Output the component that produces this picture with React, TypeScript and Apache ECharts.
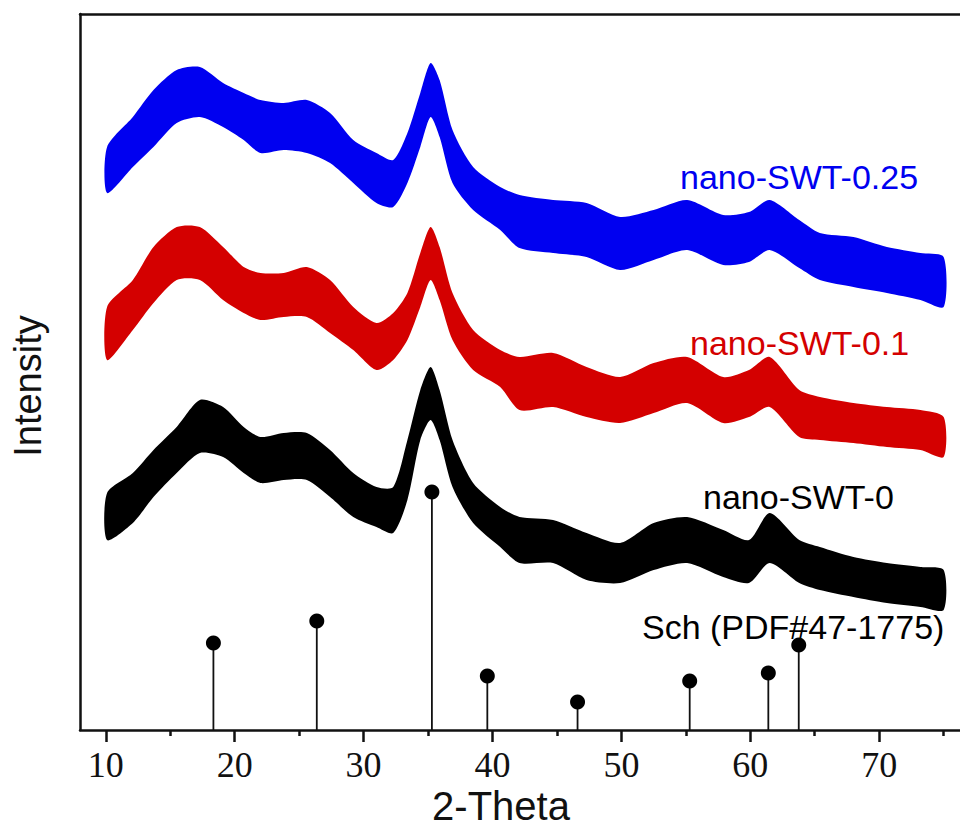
import React, { useEffect, useRef } from "react";
import * as echarts from "echarts";

// 2-Theta sample positions (degrees)
const twoTheta = [10.1, 12.1, 13.7, 15.5, 17.3, 19.1, 20.7, 22.0, 23.8, 25.6, 27.4, 29.2, 31.0, 32.3, 33.4, 34.4, 35.2, 35.9, 36.9, 38.5, 40.6, 42.1, 44.7, 47.3, 49.9, 52.5, 55.1, 57.9, 59.9, 61.5, 63.8, 65.4, 68.0, 70.6, 73.2, 75.0];

// nano-SWT-0.25 (upper / lower edge of the noisy trace, offset intensity)
const swt025Hi = [583, 613, 640, 660, 663, 647, 637, 630, 627, 630, 617, 590, 577, 570, 597, 637, 667, 650, 600, 563, 543, 535, 530, 527, 513, 520, 530, 515, 518, 530, 510, 497, 493, 483, 477, 473];
const swt025Lo = [537, 563, 583, 607, 613, 603, 590, 577, 580, 577, 567, 547, 527, 523, 547, 583, 613, 593, 547, 520, 500, 482, 477, 473, 460, 470, 480, 465, 468, 480, 462, 450, 443, 437, 430, 423];

// nano-SWT-0.1
const swt01Hi = [423, 450, 483, 503, 503, 483, 463, 457, 457, 463, 450, 423, 407, 417, 437, 477, 503, 483, 437, 400, 380, 373, 377, 363, 353, 367, 373, 353, 360, 373, 340, 333, 327, 323, 320, 313];
const swt01Lo = [370, 400, 427, 450, 450, 430, 417, 410, 413, 413, 397, 380, 360, 370, 390, 423, 450, 430, 390, 360, 343, 320, 323, 313, 307, 317, 327, 307, 313, 323, 293, 290, 287, 283, 280, 273];

// nano-SWT-0
const swt0Hi = [237, 257, 280, 303, 330, 323, 303, 293, 297, 297, 280, 257, 243, 243, 290, 340, 363, 340, 290, 247, 223, 213, 210, 197, 187, 207, 213, 200, 190, 217, 190, 183, 173, 167, 163, 160];
const swt0Lo = [190, 207, 233, 257, 277, 273, 257, 247, 250, 250, 233, 213, 203, 197, 230, 290, 310, 290, 243, 207, 183, 167, 167, 150, 147, 160, 167, 153, 147, 167, 147, 140, 133, 127, 123, 120];

// Sch (PDF#47-1775) reference lines
const pdfPos = [18.35, 26.37, 35.3, 39.6, 46.6, 55.3, 61.4, 63.76];
const pdfInt = [87, 109, 238, 54, 28, 49, 57, 85];

const majorTicks = [10, 20, 30, 40, 50, 60, 70];
const minorTicks = [15, 25, 35, 45, 55, 65, 75];

const X_MIN = 8;
const X_MAX = 76.27;
const Y_MAX = 716;

function bandSeries(name: string, hi: number[], lo: number[], color: string) {
  const data = twoTheta.map((x, i) => [x, lo[i], hi[i]]);
  return {
    type: "custom",
    name,
    data,
    encode: { x: 0, y: [1, 2] },
    clip: true,
    silent: true,
    renderItem: (params: any, api: any) => {
      if (params.dataIndex !== 0) return null;
      const top = data.map((d) => api.coord([d[0], d[2]]));
      const bot = data.map((d) => api.coord([d[0], d[1]])).reverse();
      return {
        type: "polygon",
        shape: { points: top.concat(bot), smooth: 0.25 },
        style: { fill: color },
      };
    },
  };
}

export default function App() {
  const ref = useRef<HTMLDivElement>(null);
  useEffect(() => {
    if (!ref.current) return;
    const chart = echarts.init(ref.current, undefined, { renderer: "svg" });
    const stickData = pdfPos.map((x, i) => [x, pdfInt[i]]);
    chart.setOption({
      animation: false,
      backgroundColor: "#fff",
      grid: { left: 80, right: 0, top: 14, bottom: 97, containLabel: false },
      xAxis: [
        {
          type: "value",
          min: X_MIN,
          max: X_MAX,
          position: "bottom",
          axisLine: { show: true, onZero: false, lineStyle: { color: "#111", width: 2.5 } },
          axisTick: { show: true, inside: false, length: 12, customValues: majorTicks, lineStyle: { color: "#111", width: 2.5 } },
          axisLabel: {
            show: true,
            customValues: majorTicks,
            margin: 17,
            fontFamily: "Liberation Serif",
            fontSize: 36,
            color: "#111",
          },
          splitLine: { show: false },
        },
        {
          type: "value",
          min: X_MIN,
          max: X_MAX,
          position: "bottom",
          axisLine: { show: false },
          axisTick: { show: true, length: 6, customValues: minorTicks, lineStyle: { color: "#111", width: 2.5 } },
          axisLabel: { show: false },
          splitLine: { show: false },
        },
        {
          type: "value",
          min: X_MIN,
          max: X_MAX,
          position: "top",
          axisLine: { show: true, onZero: false, lineStyle: { color: "#111", width: 2.5 } },
          axisTick: { show: false },
          axisLabel: { show: false },
          splitLine: { show: false },
        },
      ],
      yAxis: {
        type: "value",
        min: 0,
        max: Y_MAX,
        axisLine: { show: true, onZero: false, lineStyle: { color: "#111", width: 2.5 } },
        axisTick: { show: false },
        axisLabel: { show: false },
        splitLine: { show: false },
      },
      series: [
        bandSeries("nano-SWT-0.25", swt025Hi, swt025Lo, "#0000f0"),
        bandSeries("nano-SWT-0.1", swt01Hi, swt01Lo, "#d40000"),
        bandSeries("nano-SWT-0", swt0Hi, swt0Lo, "#000000"),
        {
          type: "custom",
          name: "Sch stems",
          data: stickData,
          encode: { x: 0, y: 1 },
          silent: true,
          renderItem: (params: any, api: any) => {
            const x = api.value(0);
            const y = api.value(1);
            const p0 = api.coord([x, 0]);
            const p1 = api.coord([x, y]);
            return {
              type: "line",
              shape: { x1: p0[0], y1: p0[1], x2: p1[0], y2: p1[1] },
              style: { stroke: "#111", lineWidth: 1.8 },
            };
          },
        },
        {
          type: "scatter",
          name: "Sch (PDF#47-1775)",
          data: stickData,
          symbol: "circle",
          symbolSize: 15,
          itemStyle: { color: "#000", opacity: 1 },
          silent: true,
          z: 5,
        },
      ],
      graphic: [
        {
          type: "text",
          x: 680,
          y: 177,
          style: { text: "nano-SWT-0.25", fill: "#0000f0", font: '34px "Liberation Sans"', textAlign: "left", textVerticalAlign: "middle" },
        },
        {
          type: "text",
          x: 690,
          y: 343,
          style: { text: "nano-SWT-0.1", fill: "#d40000", font: '34px "Liberation Sans"', textAlign: "left", textVerticalAlign: "middle" },
        },
        {
          type: "text",
          x: 703,
          y: 497,
          style: { text: "nano-SWT-0", fill: "#000", font: '34px "Liberation Sans"', textAlign: "left", textVerticalAlign: "middle" },
        },
        {
          type: "text",
          x: 642,
          y: 627,
          style: { text: "Sch (PDF#47-1775)", fill: "#000", font: '34px "Liberation Sans"', textAlign: "left", textVerticalAlign: "middle" },
        },
        {
          type: "text",
          x: 501,
          y: 806,
          style: { text: "2-Theta", fill: "#111", font: '40px "Liberation Sans"', textAlign: "center", textVerticalAlign: "middle" },
        },
        {
          type: "text",
          x: 28,
          y: 386,
          rotation: Math.PI / 2,
          style: { text: "Intensity", fill: "#111", font: '38px "Liberation Sans"', textAlign: "center", textVerticalAlign: "middle" },
        },
      ],
    });
    return () => chart.dispose();
  }, []);
  return <div ref={ref} style={{ position: "absolute", left: 0, top: 0, width: 960, height: 827 }} />;
}
